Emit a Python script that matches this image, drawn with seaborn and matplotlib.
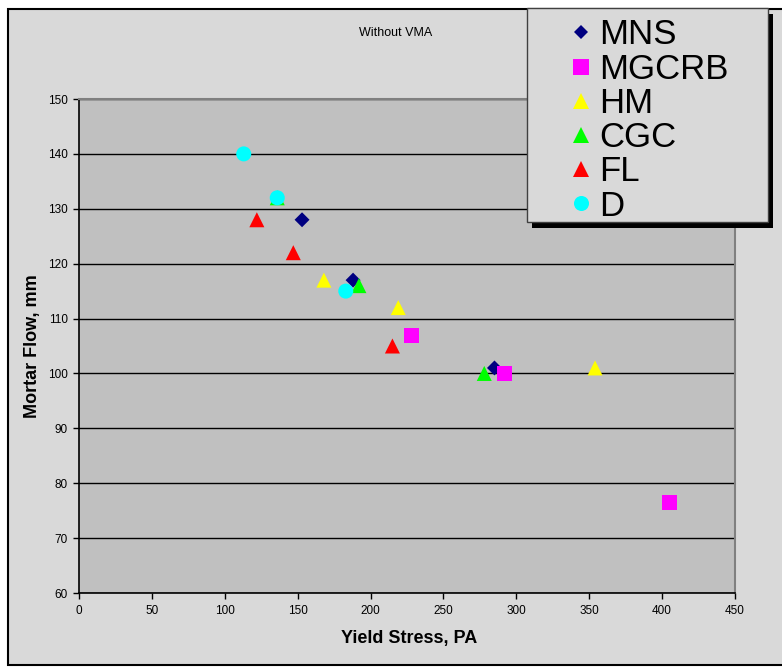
import matplotlib
matplotlib.use("Agg")
import matplotlib.pyplot as plt
from matplotlib.patches import Rectangle
import seaborn as sns
import pandas as pd

# Yield stress (Pa) and mortar flow (mm) for each admixture series
series_names = ["MNS", "MGCRB", "HM", "CGC", "FL", "D"]
mns_x, mns_y = [153, 188, 285], [128, 117, 101]
mgcrb_x, mgcrb_y = [228, 292, 405], [107, 100, 76.5]
hm_x, hm_y = [168, 219, 354], [117, 112, 101]
cgc_x, cgc_y = [136, 192, 278], [132, 116, 100]
fl_x, fl_y = [122, 147, 215], [128, 122, 105]
d_x, d_y = [113, 136, 183], [140, 132, 115]

x_ticks = [0, 50, 100, 150, 200, 250, 300, 350, 400, 450]
y_ticks = [60, 70, 80, 90, 100, 110, 120, 130, 140, 150]

colors = {"MNS": "#000080", "MGCRB": "#FF00FF", "HM": "#FFFF00",
          "CGC": "#00FF00", "FL": "#FF0000", "D": "#00FFFF"}
markers = {"MNS": "D", "MGCRB": "s", "HM": "^", "CGC": "^", "FL": "^", "D": "o"}
sizes = {"MNS": 58, "MGCRB": 117, "HM": 117, "CGC": 117, "FL": 117, "D": 117}

xs = [mns_x, mgcrb_x, hm_x, cgc_x, fl_x, d_x]
ys = [mns_y, mgcrb_y, hm_y, cgc_y, fl_y, d_y]
rows = []
for name, sx, sy in zip(series_names, xs, ys):
    for a, b in zip(sx, sy):
        rows.append({"series": name, "Yield Stress, PA": a, "Mortar Flow, mm": b})
df = pd.DataFrame(rows)

sns.set_style("white")
plt.rcParams["font.family"] = ["Liberation Sans", "DejaVu Sans"]
plt.rcParams["text.color"] = "black"
plt.rcParams["axes.labelcolor"] = "black"
plt.rcParams["xtick.color"] = "black"
plt.rcParams["ytick.color"] = "black"

W, H = 782, 669
fig = plt.figure(figsize=(W / 100, H / 100), dpi=100)
fig.patch.set_facecolor("white")


def fx(px):
    return px / W


def fy(py):
    return 1 - py / H


# chart area background with border
fig.add_artist(Rectangle((fx(8), fy(665)), fx(830) - fx(8), fy(9) - fy(665),
                         transform=fig.transFigure, facecolor="#D9D9D9",
                         edgecolor="black", lw=1.5, zorder=0))

ax = fig.add_axes([fx(79), fy(593), fx(735) - fx(79), fy(99) - fy(593)])
ax.set_facecolor("#C0C0C0")

sns.scatterplot(data=df, x="Yield Stress, PA", y="Mortar Flow, mm",
                hue="series", style="series", size="series",
                palette=colors, markers=markers, sizes=sizes,
                hue_order=series_names, style_order=series_names,
                size_order=series_names,
                edgecolor="none", linewidth=0, alpha=1, ax=ax,
                legend="full", zorder=3)

ax.set_xlim(0, 450)
ax.set_ylim(60, 150)
ax.set_xticks(x_ticks)
ax.set_yticks(y_ticks)
ax.yaxis.grid(True, color="black", lw=1)
ax.xaxis.grid(False)
ax.set_axisbelow(True)

for side in ("left", "bottom"):
    ax.spines[side].set_color("black")
    ax.spines[side].set_linewidth(1.2)
for side in ("top", "right"):
    ax.spines[side].set_color("#808080")
    ax.spines[side].set_linewidth(1.5)

ax.tick_params(axis="both", direction="out", length=4, width=1,
               color="black", labelsize=8.5, labelcolor="black")
ax.tick_params(axis="x", pad=5, bottom=True)
ax.tick_params(axis="y", pad=4, left=True)

ax.set_xlabel("Yield Stress, PA", fontsize=13, fontweight="bold", color="black")
ax.set_ylabel("Mortar Flow, mm", fontsize=13, fontweight="bold", color="black")
ax.xaxis.label.set_va("center")
ax.yaxis.label.set_va("center")
ax.xaxis.set_label_coords((409 - 79) / 656, -(638 - 593) / 494)
ax.yaxis.set_label_coords(-(79 - 33) / 656, 0.5)

fig.text(fx(396), fy(33), "Without VMA", ha="center", va="center",
         fontsize=9, color="black")

# legend box with a solid drop shadow
lx0, ly0, lx1, ly1 = 527, 8, 768, 222
fig.add_artist(Rectangle((fx(lx0 + 5), fy(ly1 + 6)), fx(lx1) - fx(lx0), fy(ly0) - fy(ly1),
                         transform=fig.transFigure, facecolor="black",
                         edgecolor="none", zorder=5))
fig.add_artist(Rectangle((fx(lx0), fy(ly1)), fx(lx1) - fx(lx0), fy(ly0) - fy(ly1),
                         transform=fig.transFigure, facecolor="#D9D9D9",
                         edgecolor="#404040", lw=1, zorder=6))

handles = ax.legend_.legend_handles
labels = [t.get_text() for t in ax.legend_.get_texts()]
ax.legend_.remove()
leg = fig.legend(handles, labels, loc="upper left",
                 bbox_to_anchor=(fx(571), fy(18.5)), frameon=False,
                 borderpad=0, borderaxespad=0, fontsize=25,
                 handlelength=0.55, handletextpad=0.25, labelspacing=0.035)
leg.set_zorder(7)
for h in leg.legend_handles:
    h.set_markeredgewidth(0)
for t in leg.get_texts():
    t.set_color("black")

fig.savefig("out.png", dpi=100)
